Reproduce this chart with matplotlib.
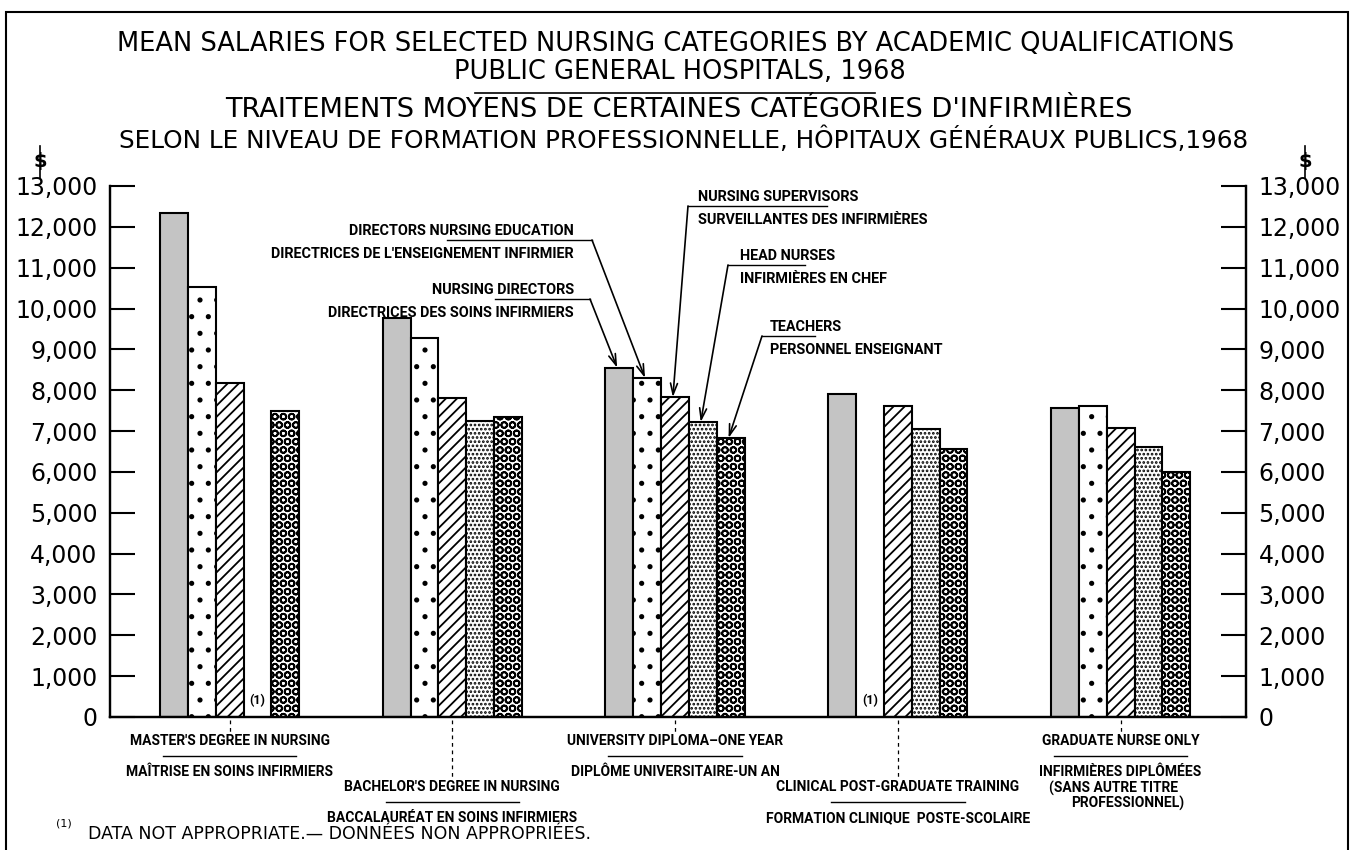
import matplotlib
matplotlib.use("Agg")
import matplotlib.pyplot as plt
import numpy as np
from matplotlib.patches import Rectangle
from matplotlib.lines import Line2D
from matplotlib.transforms import blended_transform_factory

# data (dollars)
groups = ["MASTER'S DEGREE IN NURSING", "BACHELOR'S DEGREE IN NURSING",
          "UNIVERSITY DIPLOMA\u2013ONE YEAR", "CLINICAL POST-GRADUATE TRAINING",
          "GRADUATE NURSE ONLY"]
groups_fr = ["MA\u00ceTRISE EN SOINS INFIRMIERS", "BACCALAUR\u00c9AT EN SOINS INFIRMIERS",
             "DIPL\u00d4ME UNIVERSITAIRE-UN AN", "FORMATION CLINIQUE  POSTE-SCOLAIRE",
             "INFIRMI\u00c8RES DIPL\u00d4M\u00c9ES"]
nursing_directors = [12350, 9770, 8550, 7910, 7560]
directors_education = [10530, 9280, 8300, np.nan, 7610]
supervisors = [8180, 7810, 7830, 7610, 7070]
head_nurses = [np.nan, 7250, 7220, 7050, 6610]
teachers = [7500, 7350, 6830, 6560, 6000]
yticks = list(range(0, 13001, 1000))

series = [nursing_directors, directors_education, supervisors, head_nurses, teachers]
styles = [dict(facecolor="#c4c4c4", hatch=None),
          dict(facecolor="white", hatch="."),
          dict(facecolor="white", hatch="///"),
          dict(facecolor="white", hatch="...."),
          dict(facecolor="white", hatch="OO")]

plt.rcParams["hatch.linewidth"] = 1.3
narrow = ["Roboto", "DejaVu Sans"]
lab_fs = 10
call_fs = 10.4

W, H = 1352, 850
fx = lambda x: x / W
fy = lambda y: 1 - y / H

fig = plt.figure(figsize=(13.52, 8.5), dpi=100)
ax = fig.add_axes([110 / W, 133 / H, 1136 / W, 531 / H])

x = np.arange(len(groups))
w = 0.125
for i, (vals, st) in enumerate(zip(series, styles)):
    ax.bar(x + (i - 2) * w, vals, width=w, edgecolor="black", linewidth=1.5, **st)
    for j, v in enumerate(vals):
        if np.isnan(v):
            ax.text(x[j] + (i - 2) * w, 400, "(1)", ha="center", va="center",
                    fontsize=9, family=narrow, weight="bold")

ax.set_xlim(-0.537, 4.563)
ax.set_ylim(0, 13000)
ax.set_xticks([])
ax2 = ax.twinx()
ax2.set_ylim(0, 13000)
for a in (ax, ax2):
    a.set_yticks(yticks)
    a.set_yticklabels([f"{v:,}" for v in yticks])
    a.tick_params(axis="y", direction="in", length=18, width=1.5, labelsize=17, pad=9)
    a.spines["top"].set_visible(False)
    for s in ("left", "right", "bottom"):
        a.spines[s].set_linewidth(1.6)
ax2.set_xticks([])

# frame around the whole chart
fig.add_artist(Rectangle((fx(6), -0.01), fx(1348) - fx(6), fy(12) + 0.01,
                         transform=fig.transFigure, fill=False, lw=1.5, ec="black"))

# titles
fig.text(0.5, fy(44), "MEAN SALARIES FOR SELECTED NURSING CATEGORIES BY ACADEMIC QUALIFICATIONS",
         ha="center", va="center", fontsize=18.5)
fig.text(fx(680), fy(72), "PUBLIC GENERAL HOSPITALS, 1968", ha="center", va="center", fontsize=18.5)
fig.add_artist(Line2D([fx(475), fx(875)], [fy(93), fy(93)], color="black", lw=1.2))
fig.text(fx(679), fy(110), "TRAITEMENTS MOYENS DE CERTAINES CAT\u00c9GORIES D'INFIRMI\u00c8RES",
         ha="center", va="center", fontsize=19.6)
fig.text(fx(684), fy(140), "SELON LE NIVEAU DE FORMATION PROFESSIONNELLE, H\u00d4PITAUX G\u00c9N\u00c9RAUX PUBLICS,1968",
         ha="center", va="center", fontsize=17.8)

# dollar signs
for xd in (40, 1305):
    fig.text(fx(xd), fy(162), "\\$", ha="center", va="center", fontsize=14, weight="bold")
    fig.add_artist(Line2D([fx(xd), fx(xd)], [fy(146), fy(178)], color="black", lw=1.2))

# group labels under the axis
tb = blended_transform_factory(ax.transData, fig.transFigure)
lab_y = [741, 787, 741, 787, 741]
for j in range(len(groups)):
    y0 = lab_y[j]
    ax.plot([x[j], x[j]], [fy(720), fy(y0 - 9)], transform=tb, ls=(0, (3, 3)),
            color="black", lw=0.9, clip_on=False)
    ax.text(x[j], fy(y0), groups[j], transform=tb, ha="center", va="center",
            fontsize=lab_fs, family=narrow, weight="bold")
    ax.plot([x[j] - 0.3, x[j] + 0.3], [fy(y0 + 15), fy(y0 + 15)], transform=tb,
            color="black", lw=1.0, clip_on=False)
    ax.text(x[j], fy(y0 + 31), groups_fr[j], transform=tb, ha="center", va="center",
            fontsize=lab_fs, family=narrow, weight="bold")
ax.text(x[4] - 0.03, fy(788), "(SANS AUTRE TITRE", transform=tb, ha="center", va="center",
        fontsize=lab_fs, family=narrow, weight="bold")
ax.text(x[4] + 0.03, fy(803), "PROFESSIONNEL)", transform=tb, ha="center", va="center",
        fontsize=lab_fs, family=narrow, weight="bold")

# footnote
fig.text(fx(64), fy(824), "(1)", ha="center", va="center", fontsize=8)
fig.text(fx(88), fy(834), "DATA NOT APPROPRIATE.\u2014 DONN\u00c9ES NON APPROPRI\u00c9ES.",
         ha="left", va="center", fontsize=12.5)

# callouts pointing to bars of the third group
callouts = [
    # (series index, english, french, text x, ha, text y, underline x0, x1, arrow start x)
    (0, "NURSING DIRECTORS", "DIRECTRICES DES SOINS INFIRMIERS", 574, "right", 290, 495, 590, 590),
    (1, "DIRECTORS NURSING EDUCATION", "DIRECTRICES DE L'ENSEIGNEMENT INFIRMIER", 574, "right", 231, 447, 592, 592),
    (2, "NURSING SUPERVISORS", "SURVEILLANTES DES INFIRMI\u00c8RES", 698, "left", 197, 688, 827, 688),
    (3, "HEAD NURSES", "INFIRMI\u00c8RES EN CHEF", 740, "left", 256, 728, 805, 728),
    (4, "TEACHERS", "PERSONNEL ENSEIGNANT", 770, "left", 327, 762, 815, 762),
]
for si, en, fr, tx, ha, ty, u0, u1, ax0 in callouts:
    uy = ty + 9
    fig.text(fx(tx), fy(ty), en, ha=ha, va="center", fontsize=call_fs, family=narrow, weight="bold")
    fig.text(fx(tx), fy(ty + 23), fr, ha=ha, va="center", fontsize=call_fs, family=narrow, weight="bold")
    fig.add_artist(Line2D([fx(u0), fx(u1)], [fy(uy), fy(uy)], color="black", lw=1.0))
    ax.annotate("", xy=(x[2] + (si - 2) * w - 0.01, series[si][2]), xycoords="data",
                xytext=(fx(ax0), fy(uy)), textcoords="figure fraction",
                arrowprops=dict(arrowstyle="->,head_length=0.8,head_width=0.25",
                                color="black", lw=1.2, shrinkA=0, shrinkB=0))

fig.savefig("out.png", dpi=100)
